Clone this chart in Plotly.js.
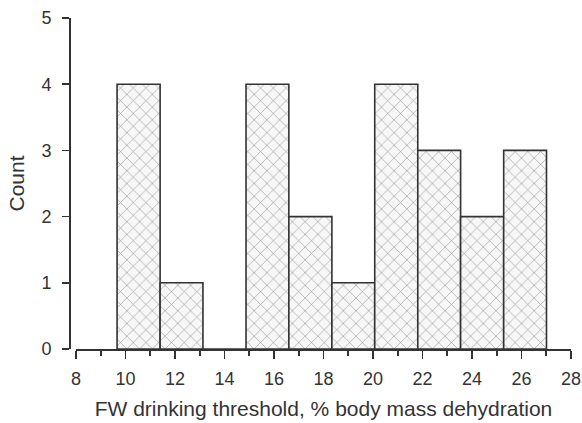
<!DOCTYPE html>
<html>
<head>
<meta charset="utf-8">
<script src="https://cdn.plot.ly/plotly-3.0.1.min.js"></script>
<style>html,body{margin:0;padding:0;background:#fff;}#chart{width:582px;height:423px;}</style>
</head>
<body>
<div id="chart"></div>
<script>
// Histogram bin edges (FW drinking threshold, % body mass dehydration)
const binEdges = [9.66, 11.40, 13.13, 14.87, 16.60, 18.34, 20.07, 21.81, 23.54, 25.28, 27.01];
// Count in each bin
const counts = [4, 1, 0, 4, 2, 1, 4, 3, 2, 3];
const xTickVals = [8, 10, 12, 14, 16, 18, 20, 22, 24, 26, 28];
const yTickVals = [0, 1, 2, 3, 4, 5];
const xTitle = "FW drinking threshold, % body mass dehydration";
const yTitle = "Count";

const centers = counts.map((c, i) => (binEdges[i] + binEdges[i + 1]) / 2);
const widths = counts.map((c, i) => binEdges[i + 1] - binEdges[i]);

const ink = '#333333';
const fontFam = '"Liberation Sans", Arial, sans-serif';

const trace = {
  type: 'bar',
  x: centers,
  y: counts,
  width: widths,
  marker: {
    color: '#f3f3f3',
    line: {color: ink, width: 1.6},
    pattern: {shape: 'x', fgcolor: '#8a8a8a', bgcolor: '#f7f7f7', size: 9, solidity: 0.12}
  },
  hoverinfo: 'x+y'
};

const layout = {
  width: 582, height: 423,
  margin: {l: 69, r: 11, t: 18, b: 74},
  paper_bgcolor: '#ffffff', plot_bgcolor: '#ffffff',
  showlegend: false,
  font: {family: fontFam, color: ink},
  xaxis: {
    domain: [0.0139, 1],
    range: [8, 28],
    tickvals: xTickVals,
    ticks: 'outside', ticklen: 8, tickwidth: 1.6, tickcolor: ink,
    showline: true, linecolor: ink, linewidth: 1.6,
    showgrid: false, zeroline: false,
    tickfont: {size: 18, color: ink},
    ticklabelstandoff: 5,
    minor: {dtick: 1, tick0: 0, ticks: 'outside', ticklen: 5, tickwidth: 1.6, tickcolor: ink, showgrid: false},
    title: {text: xTitle, font: {size: 21, color: ink}, standoff: 13}
  },
  yaxis: {
    anchor: 'free', position: 0,
    range: [0, 5],
    tickvals: yTickVals,
    ticks: 'outside', ticklen: 7, tickwidth: 1.6, tickcolor: ink,
    showline: true, linecolor: ink, linewidth: 1.6,
    showgrid: false, zeroline: false,
    tickfont: {size: 18, color: ink},
    ticklabelstandoff: 7,
    title: {text: yTitle, font: {size: 21, color: ink}, standoff: 9}
  }
};

Plotly.newPlot('chart', [trace], layout, {staticPlot: true, displayModeBar: false});
</script>
</body>
</html>
